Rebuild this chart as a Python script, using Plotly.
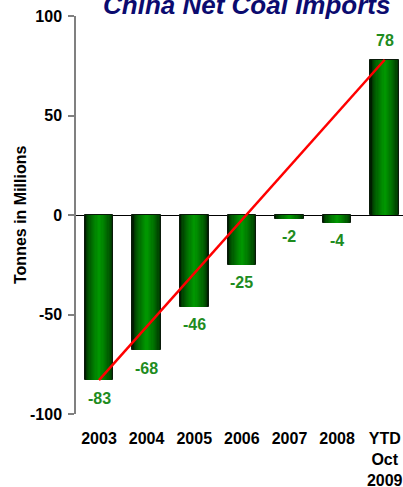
import plotly.graph_objects as go

# Net coal imports (million tonnes)
categories = ["2003", "2004", "2005", "2006", "2007", "2008", "YTD<br>Oct<br>2009"]
net_imports = [-83, -68, -46, -25, -2, -4, 78]
y_ticks = [-100, -50, 0, 50, 100]
y_tick_text = ["-100", "-50", "0", "50", "100"]

FONT = "Liberation Sans, Arial, sans-serif"
LABEL_GREEN = "#1e8c1e"

fig = go.Figure()

# Shaded bars: stacked overlay layers, each narrower and brighter, for a cylinder-like look
n_layers = 12
edge = (0, 30, 0)
centre = (0, 150, 0)
for k in range(n_layers):
    t = (k / (n_layers - 1)) ** 0.6
    col = tuple(int(round(edge[i] + (centre[i] - edge[i]) * t)) for i in range(3))
    width = 0.6 * (1 - k / n_layers)
    fig.add_trace(go.Bar(
        x=categories, y=net_imports, width=width,
        marker=dict(color=f"rgb{col}",
                    line=dict(color="#0a1a0a" if k == 0 else f"rgb{col}",
                              width=1 if k == 0 else 0)),
        hoverinfo="skip", showlegend=False,
    ))

# Trend line from first to last value
fig.add_trace(go.Scatter(
    x=[categories[0], categories[-1]], y=[net_imports[0], net_imports[-1]],
    mode="lines", line=dict(color="#ff0000", width=2.5),
    hoverinfo="skip", showlegend=False,
))

# Value labels (positioned by category index)
for i, val in enumerate(net_imports):
    fig.add_annotation(
        x=i, y=val, text=f"{val}", showarrow=False,
        yanchor="middle", yshift=19 if val > 0 else -18,
        font=dict(family=FONT, size=16, color=LABEL_GREEN, weight="bold"),
    )

# Title
fig.add_annotation(
    xref="paper", yref="paper", x=0.521, y=1.0, yanchor="bottom", yshift=-6,
    text="<b><i>China Net Coal Imports</i></b>", showarrow=False,
    font=dict(family=FONT, size=26, color="#0b0b6f"),
)

# Axis title
fig.add_annotation(
    xref="paper", yref="paper", x=(20 - 76) / 327, y=0.5,
    text="<b>Tonnes in Millions</b>", textangle=-90, showarrow=False,
    xanchor="center", yanchor="middle",
    font=dict(family=FONT, size=16, color="black"),
)

fig.update_layout(
    width=403, height=487,
    margin=dict(l=76, r=0, t=16, b=73, autoexpand=False),
    barmode="overlay", bargap=0,
    plot_bgcolor="white", paper_bgcolor="white",
    font=dict(family=FONT, size=16, color="black"),
    xaxis=dict(
        type="category", range=[-0.483, 6.384], automargin=False,
        showline=False, showgrid=False, zeroline=False,
        ticks="", ticklabelstandoff=13,
        tickfont=dict(family=FONT, size=16, color="black", weight="bold"),
    ),
    yaxis=dict(
        range=[-100, 100], tickvals=y_ticks, ticktext=y_tick_text, automargin=False,
        showline=True, linecolor="#808080", linewidth=1.5,
        ticks="outside", ticklen=6, tickcolor="#808080", tickwidth=1.5,
        ticklabelstandoff=3,
        showgrid=False, zeroline=True, zerolinecolor="#000000", zerolinewidth=1,
        tickfont=dict(family=FONT, size=16, color="black", weight="bold"),
    ),
)

fig.write_html("out.html")
